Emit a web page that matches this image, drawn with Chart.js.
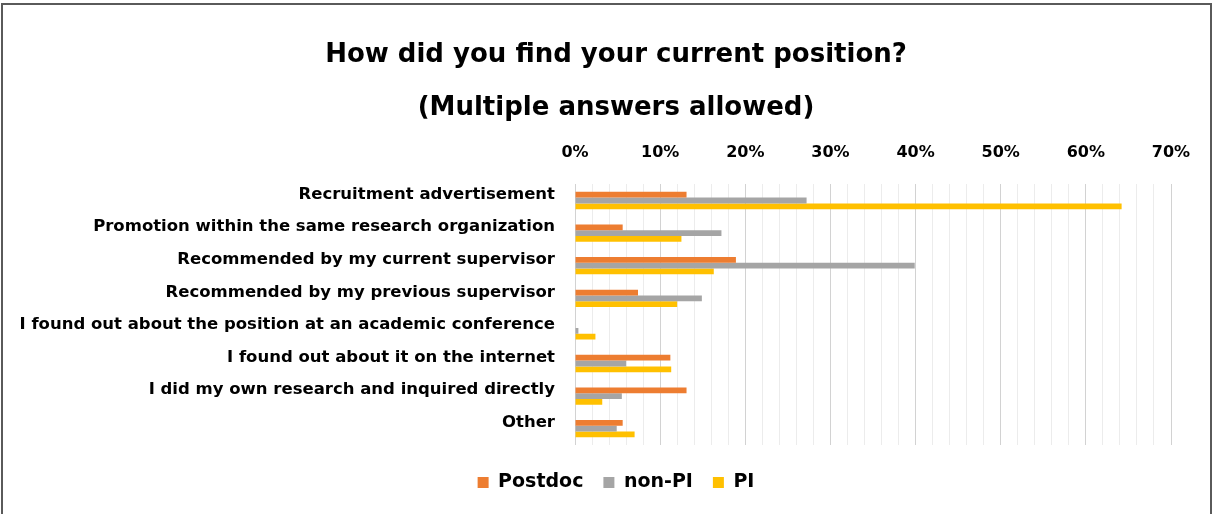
<!DOCTYPE html>
<html>
<head>
<meta charset="utf-8">
<title>How did you find your current position?</title>
<script src="https://cdn.jsdelivr.net/npm/chart.js@4/dist/chart.umd.min.js"></script>
<style>
  html, body { margin: 0; padding: 0; background: #ffffff; }
  #wrap { position: relative; width: 1213px; height: 514px; overflow: hidden; }
  #frame {
    position: absolute; left: 1px; top: 3px; width: 1211px; height: 540px;
    border: 2px solid #5a5a5a; box-sizing: border-box; pointer-events: none;
  }
  canvas { display: block; }
</style>
</head>
<body>
<div id="wrap">
  <canvas id="chart" width="1213" height="514"></canvas>
  <div id="frame"></div>
</div>
<script>
// Answer categories (top to bottom)
const categories = [
  "Recruitment advertisement",
  "Promotion within the same research organization",
  "Recommended by my current supervisor",
  "Recommended by my previous supervisor",
  "I found out about the position at an academic conference",
  "I found out about it on the internet",
  "I did my own research and inquired directly",
  "Other"
];

// Share of respondents (%) per group
const postdoc = [13.1, 5.6, 18.9, 7.4, 0.0, 11.2, 13.1, 5.6];
const nonPI   = [27.2, 17.2, 39.9, 14.9, 0.4, 6.0, 5.5, 4.9];
const pi      = [64.2, 12.5, 16.3, 12.0, 2.4, 11.3, 3.2, 7.0];

// Labelled axis values (%); minor gridlines every 2%
const tickLabels = [0, 10, 20, 30, 40, 50, 60, 70];

const FONT = "'DejaVu Sans', 'Noto Sans', sans-serif";
Chart.defaults.font.family = FONT;
Chart.defaults.color = "#000000";

new Chart(document.getElementById("chart"), {
  type: "bar",
  data: {
    labels: categories,
    datasets: [
      { label: "Postdoc", data: postdoc, backgroundColor: "#ED7D31" },
      { label: "non-PI",  data: nonPI,   backgroundColor: "#A5A5A5" },
      { label: "PI",      data: pi,      backgroundColor: "#FFC000" }
    ]
  },
  options: {
    indexAxis: "y",
    responsive: false,
    animation: false,
    categoryPercentage: 0.53,
    barPercentage: 1.0,
    layout: { padding: { left: 19, right: 0, top: 0, bottom: 12 } },
    plugins: {
      title: {
        display: true,
        text: "How did you find your current position?",
        font: { size: 26, weight: "bold", family: FONT, lineHeight: 1.0 },
        color: "#000000",
        padding: { top: 42, bottom: 27 }
      },
      subtitle: {
        display: true,
        text: "(Multiple answers allowed)",
        font: { size: 26, weight: "bold", family: FONT, lineHeight: 1.0 },
        color: "#000000",
        padding: { top: 0, bottom: 0 }
      },
      legend: {
        position: "bottom",
        labels: {
          boxWidth: 11,
          boxHeight: 11,
          padding: 20,
          font: { size: 19, weight: "bold", family: FONT },
          color: "#000000"
        }
      },
      tooltip: { enabled: false }
    },
    scales: {
      x: {
        position: "top",
        min: tickLabels[0],
        max: tickLabels[tickLabels.length - 1],
        border: { display: false },
        grid: {
          drawTicks: false,
          lineWidth: 1,
          color: (ctx) => (ctx.tick && tickLabels.includes(ctx.tick.value)) ? "#d2d2d2" : "#ececec"
        },
        ticks: {
          stepSize: 2,
          autoSkip: false,
          maxRotation: 0,
          padding: 22,
          font: { size: 16, weight: "bold", family: FONT },
          color: "#000000",
          callback: (v) => tickLabels.includes(v) ? v + "%" : ""
        }
      },
      // gap between the plot and the legend
      xGap: {
        type: "linear",
        position: "bottom",
        display: true,
        border: { display: false },
        grid: { display: false, drawTicks: false },
        ticks: { display: false },
        afterFit: (scale) => { scale.height = 8; }
      },
      y: {
        border: { display: false },
        grid: { display: false, drawTicks: false },
        ticks: {
          padding: 20,
          labelOffset: -6,
          autoSkip: false,
          font: { size: 16.5, weight: "bold", family: FONT },
          color: "#000000"
        },
        afterFit: (scale) => { scale.width = 556; }
      },
      // empty margin on the right of the plot
      yRight: {
        type: "linear",
        position: "right",
        display: true,
        border: { display: false },
        grid: { display: false, drawTicks: false },
        ticks: { display: false },
        afterFit: (scale) => { scale.width = 42; }
      }
    }
  }
});
</script>
</body>
</html>
